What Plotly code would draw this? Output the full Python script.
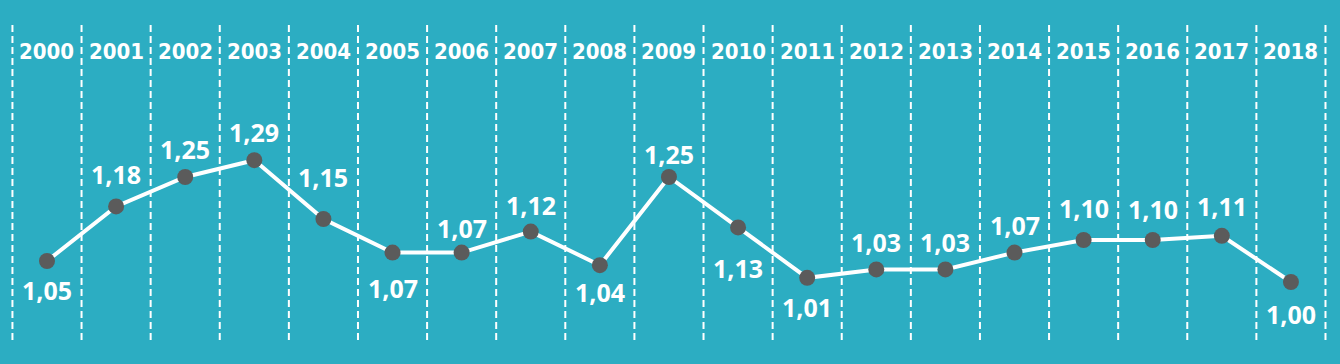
import plotly.graph_objects as go

years = list(range(2000, 2019))
values = [1.05, 1.18, 1.25, 1.29, 1.15, 1.07, 1.07, 1.12, 1.04, 1.25,
          1.13, 1.01, 1.03, 1.03, 1.07, 1.10, 1.10, 1.11, 1.00]
value_labels = [f"{v:.2f}".replace(".", ",") for v in values]
# label offset from the point in pixels (positive = above, negative = below)
label_offsets = [-29, 32, 28, 28, 42, -35, 25, 27, -27, 23,
                 -41, -29, 27, 27, 28, 32, 31, 30, -32]

BG = "#2cadc2"

fig = go.Figure()
fig.add_trace(go.Scatter(
    x=years, y=values, mode="lines+markers",
    line=dict(color="white", width=4),
    marker=dict(color="#5b5b5b", size=16, line=dict(width=0)),
    hoverinfo="skip", showlegend=False,
))

shapes = []
for i in range(len(years) + 1):
    xv = years[0] - 0.5 + i
    shapes.append(dict(type="line", xref="x", yref="paper", x0=xv, x1=xv,
                       y0=1 - 340 / 364, y1=1 - 22 / 364,
                       line=dict(color="white", width=2, dash="7px,4px"), layer="below"))

annotations = []
for yr in years:
    annotations.append(dict(x=yr, y=1 - 52 / 364, xref="x", yref="paper", text=str(yr),
                            showarrow=False, xanchor="center", yanchor="middle",
                            font=dict(family="DejaVu Sans Condensed, Liberation Sans Narrow", size=22,
                                      color="white", weight="bold")))
for yr, v, lab, off in zip(years, values, value_labels, label_offsets):
    annotations.append(dict(x=yr, y=v, xref="x", yref="y", text=lab, showarrow=False,
                            xanchor="center", yanchor="middle", yshift=off,
                            font=dict(family="Open Sans", size=25, color="white", weight="bold")))

fig.update_layout(
    width=1340, height=364,
    margin=dict(l=0, r=0, t=0, b=0),
    paper_bgcolor=BG, plot_bgcolor=BG,
    xaxis=dict(range=[1999.32, 2018.71], visible=False, fixedrange=True),
    yaxis=dict(range=[0.8048, 1.6714], visible=False, fixedrange=True),
    shapes=shapes, annotations=annotations,
)

fig.write_html("out.html", config={"displayModeBar": False},
               post_script="document.body.style.margin='0';document.body.style.background='" + BG + "';")
